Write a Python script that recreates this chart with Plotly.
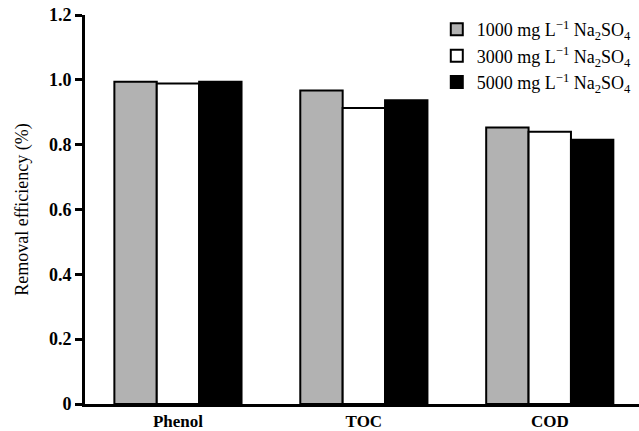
import plotly.graph_objects as go

categories = ["Phenol", "TOC", "COD"]
series_names = [
    "1000 mg L<sup>\u22121</sup> Na<sub>2</sub>SO<sub>4</sub>",
    "3000 mg L<sup>\u22121</sup> Na<sub>2</sub>SO<sub>4</sub>",
    "5000 mg L<sup>\u22121</sup> Na<sub>2</sub>SO<sub>4</sub>",
]
vals_1000 = [0.994, 0.967, 0.853]
vals_3000 = [0.989, 0.913, 0.840]
vals_5000 = [0.994, 0.937, 0.815]
colors = ["#b2b2b2", "#ffffff", "#000000"]
y_tickvals = [0, 0.2, 0.4, 0.6, 0.8, 1.0, 1.2]
y_ticktext = ["0", "0.2", "0.4", "0.6", "0.8", "1.0", "1.2"]

font_family = "Liberation Serif"

fig = go.Figure()
for name, vals, col in zip(series_names, [vals_1000, vals_3000, vals_5000], colors):
    fig.add_trace(go.Bar(
        x=categories, y=vals, name=name,
        marker=dict(color=col, line=dict(color="black", width=2)),
    ))

fig.update_layout(
    width=639, height=431,
    margin=dict(l=85, r=0, t=15, b=25),
    paper_bgcolor="white", plot_bgcolor="white",
    barmode="group", bargap=0.316, bargroupgap=0,
    font=dict(family=font_family, color="black", size=14),
    showlegend=True,
    legend=dict(
        x=0.635, y=1.01, xanchor="left", yanchor="top",
        font=dict(family=font_family, size=18, color="black"),
        bgcolor="rgba(0,0,0,0)", itemwidth=30, tracegroupgap=0,
    ),
    xaxis=dict(
        range=[-0.5, 2.48], showgrid=False, zeroline=False,
        showline=True, linecolor="black", linewidth=2.5,
        ticks="", tickfont=dict(family=font_family, size=17, weight="bold"),
    ),
    yaxis=dict(
        range=[0, 1.2], showgrid=False, zeroline=False,
        showline=True, linecolor="black", linewidth=3,
        ticks="outside", ticklen=7, tickwidth=2.5, tickcolor="black",
        tickvals=y_tickvals, ticktext=y_ticktext,
        tickfont=dict(family=font_family, size=18, weight="bold"),
        title=dict(text="Removal efficiency (%)", font=dict(family=font_family, size=18), standoff=16),
    ),
)

fig.write_html("out.html")
